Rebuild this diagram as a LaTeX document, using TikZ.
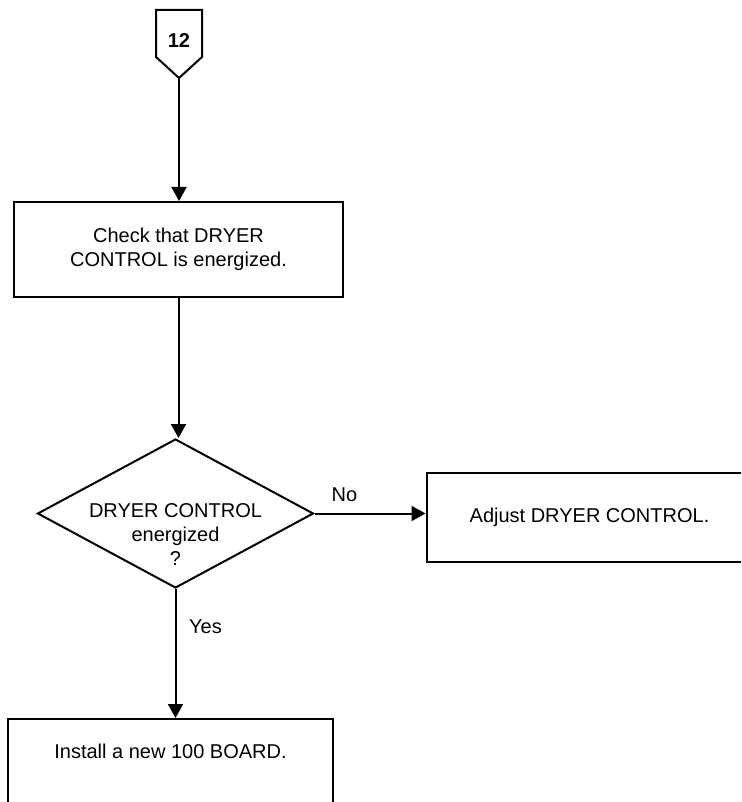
\documentclass[tikz,border=0pt]{standalone}
\usepackage{fontspec}
\setmainfont{Liberation Sans}
\usetikzlibrary{shapes.geometric, arrows.meta, positioning, calc}

\begin{document}
\begin{tikzpicture}[
    box/.style={
        rectangle, draw=black, line width=1pt, minimum width=#1,
        minimum height=47.5pt, font=\normalsize, align=center
    },
    box/.default={164.5pt},
    decision/.style={
        diamond, draw=black, line width=1pt, minimum width=138pt,
        minimum height=74.5pt, inner sep=0pt
    },
    tag/.style={font=\normalsize},
    arr/.style={-{Triangle[length=7pt, width=7.5pt]}, line width=1pt, black},
    node distance=55pt
]
\useasboundingbox (0,0) rectangle (370.5pt,-401pt);
\clip (0,0) rectangle (370.5pt,-401pt);

% ===================================================================
% OFF-PAGE CONNECTOR
% ===================================================================
\node[font=\bfseries] (conn) at (89.5pt,-20.5pt) {12};
\draw[line width=1pt] (78pt,-5pt) -- (101pt,-5pt) -- (101pt,-28.5pt)
    -- (89.5pt,-39pt) -- (78pt,-28.5pt) -- cycle;
\coordinate (conntip) at (89.5pt,-39pt);

% ===================================================================
% STEPS
% ===================================================================
\node[box] (check) at (89.25pt,-124.75pt)
    {Check that DRYER\\CONTROL is energized.};

\node[decision, below=70pt of check, xshift=-1.5pt] (energized) {};
\node[tag, align=center] (energizedtext) at ([yshift=-10.5pt]energized.center)
    {DRYER CONTROL\\energized\\?};

\node[box=163pt, minimum height=44.5pt, right=55.5pt of energized,
      yshift=-2pt] (adjust) {Adjust DRYER CONTROL.};

\node[box=162.5pt, minimum height=0pt, inner ysep=0pt, text height=19.5pt,
      text depth=29pt, below=64.5pt of energized, xshift=-2.5pt] (install)
    {Install a new 100 BOARD.};

% ===================================================================
% ARROWS
% ===================================================================
\draw[arr] (conntip) -- (conntip |- check.north);
\draw[arr] (check.south) -- (check.south |- energized.north);
\draw[arr] (energized.east) -- node[tag, pos=0.27, above=2pt] (no) {No}
    (energized.east -| adjust.west);
\draw[arr] (energized.south) -- node[tag, pos=0.29, right=3pt] (yes) {Yes}
    (energized.south |- install.north);

\end{tikzpicture}
\end{document}
